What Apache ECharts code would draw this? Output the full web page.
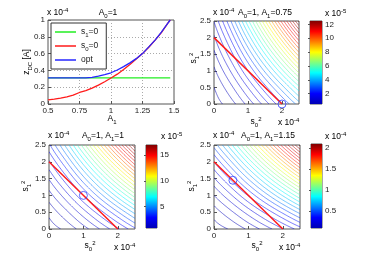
<!DOCTYPE html>
<html><head><meta charset="utf-8">
<script src="https://cdn.jsdelivr.net/npm/echarts@6/dist/echarts.min.js"></script>
<style>html,body{margin:0;padding:0;background:#fff}#c{width:374px;height:262px}</style>
</head><body><div id="c"></div>
<script>
// ---------- Panel 1 data (z_DC in units of 1e-4 A) ----------
const a1Values = [0.5,0.55,0.6,0.65,0.7,0.75,0.8,0.85,0.9,0.95,1.0,1.05,1.1,1.15,1.2,1.25,1.3,1.35,1.4,1.45,1.47];
const zS1Zero  = [0.31,0.31,0.31,0.31,0.31,0.31,0.31,0.31,0.31,0.31,0.31,0.31,0.31,0.31,0.31,0.31,0.31,0.31,0.31,0.31,0.31];
const zS0Zero  = [0.048,0.058,0.07,0.085,0.105,0.137,0.16,0.19,0.225,0.265,0.31,0.355,0.41,0.47,0.535,0.6,0.675,0.76,0.85,0.96,1.0];
const zOpt     = [0.31,0.31,0.31,0.31,0.31,0.31,0.312,0.318,0.332,0.35,0.372,0.405,0.445,0.49,0.54,0.6,0.68,0.76,0.855,0.96,1.0];

// ---------- Contour panels (s0^2, s1^2 in 1e-4; z in 1e-5) ----------
const s2Axis = [0, 0.5, 1, 1.5, 2, 2.5];
// rows: s1^2 = 0..2.5, cols: s0^2 = 0..2.5
const zA075 = [
 [0, 0.457, 1.19, 2.082, 3.097, 4.214],
 [0.207, 0.945, 1.902, 3.008, 4.234, 5.562],
 [0.538, 1.520, 2.723, 4.078, 5.555, 7.137],
 [0.941, 2.157, 3.614, 5.231, 6.977, 8.835],
 [1.400, 2.845, 4.562, 6.450, 8.479, 10.624],
 [1.905, 3.578, 5.559, 7.728, 10.045, 12.491]];
const zA100 = [
 [0, 0.457, 1.19, 2.082, 3.097, 4.214],
 [0.457, 1.317, 2.374, 3.571, 4.884, 6.296],
 [1.19, 2.374, 3.767, 5.304, 6.959, 8.717],
 [2.082, 3.571, 5.304, 7.193, 9.209, 11.335],
 [3.097, 4.884, 6.959, 9.209, 11.598, 14.107],
 [4.214, 6.296, 8.717, 11.335, 14.107, 17.009]];
const zA115 = [
 [0, 0.457, 1.19, 2.082, 3.097, 4.214],
 [0.673, 1.618, 2.755, 4.028, 5.414, 6.897],
 [1.750, 3.081, 4.627, 6.316, 8.124, 10.033],
 [3.063, 4.758, 6.714, 8.832, 11.081, 13.443],
 [4.555, 6.604, 8.975, 11.532, 14.236, 17.064],
 [6.198, 8.600, 11.387, 14.392, 17.562, 20.876]];
const levelStart = [0.21, 0.29, 0.35];
const levelStep  = [0.42, 0.58, 0.70];
const constraintLine = [[0, 2], [2, 0]];
const optPoints = [[2, 0], [1, 1], [0.55, 1.45]];
const cbarRange = [[0.5, 12.5], [0.8, 17], [0.9, 20.9]];      // 1e-5
const cbarScale = [1, 1, 0.1];                                 // label units
const cbarTicks = [[2,4,6,8,10,12], [5,10,15], [0.5,1,1.5,2]];
const jet = ['#0000b4','#0000ff','#00ffff','#ffff00','#ff0000','#800000'];
const jetStops = [0, 0.125, 0.375, 0.625, 0.875, 1];

// ---------- contour extraction ----------
function cr(p0,p1,p2,p3,t){return 0.5*((2*p1)+(-p0+p2)*t+(2*p0-5*p1+4*p2-p3)*t*t+(-p0+3*p1-3*p2+p3)*t*t*t);}
function makeSampler(field, axis){
  const n = axis.length, h = axis[1]-axis[0];
  const G = (j,i) => {
    if (i<0) return 2*G(j,0)-G(j,1);
    if (i>n-1) return 2*G(j,n-1)-G(j,n-2);
    if (j<0) return 2*G(0,i)-G(1,i);
    if (j>n-1) return 2*G(n-1,i)-G(n-2,i);
    return field[j][i];
  };
  return (x,y) => {
    const gx=(x-axis[0])/h, gy=(y-axis[0])/h;
    const i=Math.min(Math.floor(gx),n-2), j=Math.min(Math.floor(gy),n-2);
    const tx=gx-i, ty=gy-j, r=[];
    for (let k=-1;k<=2;k++) r.push(cr(G(j+k,i-1),G(j+k,i),G(j+k,i+1),G(j+k,i+2),tx));
    return cr(r[0],r[1],r[2],r[3],ty);
  };
}
function edge(pts,x1,y1,v1,x2,y2,v2,L){
  if ((v1<L)!==(v2<L)){const t=(L-v1)/(v2-v1);pts.push([x1+(x2-x1)*t,y1+(y2-y1)*t]);}
}
function chain(segs){
  const key=p=>p[0].toFixed(6)+','+p[1].toFixed(6);
  const adj=new Map();
  segs.forEach((s,idx)=>{for(const e of [0,1]){const k=key(s[e]);if(!adj.has(k))adj.set(k,[]);adj.get(k).push(idx);}});
  const used=new Array(segs.length).fill(false), lines=[];
  for(let s0=0;s0<segs.length;s0++){
    if(used[s0])continue; used[s0]=true;
    const line=[segs[s0][0],segs[s0][1]];
    for(const dir of [1,-1]){
      while(true){
        const end=dir===1?line[line.length-1]:line[0];
        const ke=key(end);
        const cand=(adj.get(ke)||[]).find(k=>!used[k]);
        if(cand===undefined)break;
        used[cand]=true;
        const s=segs[cand];
        const next=key(s[0])===ke?s[1]:s[0];
        if(dir===1)line.push(next);else line.unshift(next);
      }
    }
    lines.push(line);
  }
  return lines;
}
function buildContours(field,start,step,nFine){
  const sample=makeSampler(field,s2Axis);
  const lo=s2Axis[0],hi=s2Axis[s2Axis.length-1],xs=[],F=[];
  for(let i=0;i<=nFine;i++)xs.push(lo+(hi-lo)*i/nFine);
  let zmax=-Infinity;
  for(let j=0;j<=nFine;j++){const row=[];for(let i=0;i<=nFine;i++){const v=sample(xs[i],xs[j]);row.push(v);if(v>zmax)zmax=v;}F.push(row);}
  const out=[];
  for(let k=0;;k++){
    const L=start+k*step; if(L>=zmax)break;
    const segs=[];
    for(let j=0;j<nFine;j++)for(let i=0;i<nFine;i++){
      const pts=[];
      edge(pts,xs[i],xs[j],F[j][i],xs[i+1],xs[j],F[j][i+1],L);
      edge(pts,xs[i+1],xs[j],F[j][i+1],xs[i+1],xs[j+1],F[j+1][i+1],L);
      edge(pts,xs[i],xs[j+1],F[j+1][i],xs[i+1],xs[j+1],F[j+1][i+1],L);
      edge(pts,xs[i],xs[j],F[j][i],xs[i],xs[j+1],F[j+1][i],L);
      if(pts.length===2)segs.push([pts[0],pts[1]]);
      else if(pts.length===4){segs.push([pts[0],pts[1]]);segs.push([pts[2],pts[3]]);}
    }
    out.push({level:L,lines:chain(segs)});
  }
  return out;
}
const fields=[zA075,zA100,zA115];
const contourStore=fields.map((f,i)=>buildContours(f,levelStart[i],levelStep[i],70));

// ---------- layout ----------
const FONT='Liberation Sans';
const panelRects=[{left:48,top:20,width:126,height:84},{left:214,top:21,width:85,height:83},{left:49,top:145,width:86,height:84},{left:214,top:145,width:86,height:84}];
const cbarRects=[{left:310,top:21,width:12,height:83},{left:146,top:145,width:11,height:83},{left:311,top:144,width:11,height:84}];
const rich={
  b:{fontSize:8.5,fontFamily:FONT,color:'#222',lineHeight:12,verticalAlign:'middle'},
  s:{fontSize:6,fontFamily:FONT,color:'#222',lineHeight:6,verticalAlign:'bottom'},
  p:{fontSize:6,fontFamily:FONT,color:'#222',lineHeight:6,verticalAlign:'top'}
};
const lbl={fontSize:8,fontFamily:FONT,color:'#222'};

const grids=[],xAxes=[],yAxes=[],series=[],visualMaps=[];
panelRects.forEach(r=>grids.push(Object.assign({show:true,borderColor:'#555',borderWidth:1,backgroundColor:'#fff'},r)));
cbarRects.forEach(r=>grids.push(Object.assign({show:true,borderColor:'#555',borderWidth:1},r)));

// panel 1 axes
xAxes.push({gridIndex:0,type:'value',min:0.5,max:1.5,interval:0.25,axisLine:{show:false},
  axisTick:{inside:true,length:3,lineStyle:{color:'#555'}},axisLabel:Object.assign({margin:3,formatter:v=>String(v)},lbl),
  splitLine:{show:true,lineStyle:{type:[1,2],color:'#aaa',width:1}}});
yAxes.push({gridIndex:0,type:'value',min:0,max:1,interval:0.2,axisLine:{show:false},
  axisTick:{inside:true,length:3,lineStyle:{color:'#555'}},axisLabel:Object.assign({margin:3},lbl),
  splitLine:{show:true,lineStyle:{type:[1,2],color:'#aaa',width:1}}});
// contour panels axes
for(let g=1;g<=3;g++){
  xAxes.push({gridIndex:g,type:'value',min:0,max:2.5,interval:1,axisLine:{show:false},
    axisTick:{inside:true,length:3,lineStyle:{color:'#555'}},axisLabel:Object.assign({margin:3,showMaxLabel:false},lbl),splitLine:{show:false}});
  yAxes.push({gridIndex:g,type:'value',min:0,max:2.5,interval:0.5,axisLine:{show:false},
    axisTick:{inside:true,length:3,lineStyle:{color:'#555'}},axisLabel:Object.assign({margin:3},lbl),splitLine:{show:false}});
}
// colorbar axes
for(let c=0;c<3;c++){
  const sc=cbarScale[c];
  xAxes.push({gridIndex:4+c,type:'value',min:0,max:1,show:false});
  yAxes.push({gridIndex:4+c,type:'value',position:'right',min:cbarRange[c][0]*sc,max:cbarRange[c][1]*sc,
    axisLine:{show:false},splitLine:{show:false},
    axisTick:{inside:true,length:2,customValues:cbarTicks[c],lineStyle:{color:'#555'}},
    axisLabel:Object.assign({margin:3,customValues:cbarTicks[c]},lbl)});
}

// panel 1 series
series.push({name:'s1=0',type:'line',xAxisIndex:0,yAxisIndex:0,showSymbol:false,data:a1Values.map((a,i)=>[a,zS1Zero[i]]),lineStyle:{color:'#22ee22',width:1.3},itemStyle:{color:'#22ee22'},z:3});
series.push({name:'s0=0',type:'line',xAxisIndex:0,yAxisIndex:0,showSymbol:false,data:a1Values.map((a,i)=>[a,zS0Zero[i]]),lineStyle:{color:'#ff1a1a',width:1.3},itemStyle:{color:'#ff1a1a'},z:3});
series.push({name:'opt',type:'line',xAxisIndex:0,yAxisIndex:0,showSymbol:false,data:a1Values.map((a,i)=>[a,zOpt[i]]),lineStyle:{color:'#2626ff',width:1.3},itemStyle:{color:'#2626ff'},z:4});

// contour panels
for(let c=0;c<3;c++){
  const g=c+1, store=contourStore[c], rng=cbarRange[c];
  const sIdx=series.length;
  series.push({type:'custom',xAxisIndex:g,yAxisIndex:g,clip:true,silent:true,
    encode:{x:0,y:1},
    data:store.map(o=>[1.25,1.25,Math.min(Math.max(o.level,rng[0]),rng[1])]),
    renderItem:(params,api)=>{
      const lines=store[params.dataIndex].lines, color=api.visual('color');
      return {type:'group',children:lines.map(l=>({type:'polyline',shape:{points:l.map(p=>api.coord(p))},style:{stroke:color,fill:'none',lineWidth:0.75,opacity:0.72}}))};
    },z:2});
  visualMaps.push({type:'continuous',show:false,seriesIndex:sIdx,dimension:2,min:rng[0],max:rng[1],inRange:{color:jet}});
  series.push({type:'line',xAxisIndex:g,yAxisIndex:g,showSymbol:false,data:constraintLine,lineStyle:{color:'#ff1a1a',width:1.5},z:5,silent:true});
  series.push({type:'scatter',xAxisIndex:g,yAxisIndex:g,data:[optPoints[c]],symbol:'circle',symbolSize:8,
    itemStyle:{color:'rgba(0,0,0,0)',borderColor:'#3344ff',borderWidth:1},z:6,silent:true});
  // colorbar
  const sc=cbarScale[c];
  series.push({type:'custom',xAxisIndex:4+c,yAxisIndex:4+c,encode:{x:[0,2],y:[1,3]},silent:true,
    data:[[0,rng[0]*sc,1,rng[1]*sc]],
    renderItem:(params,api)=>{
      const p0=api.coord([api.value(0),api.value(3)]),p1=api.coord([api.value(2),api.value(1)]);
      return {type:'rect',shape:{x:p0[0],y:p0[1],width:p1[0]-p0[0],height:p1[1]-p0[1]},
        style:{fill:{type:'linear',x:0,y:1,x2:0,y2:0,colorStops:jet.map((col,i)=>({offset:jetStops[i],color:col}))}}};
    },z:1});
}

// texts
function T(x,y,text,align,rot){
  return {type:'text',x:x,y:y,rotation:rot||0,style:{text:text,rich:rich,align:align||'left',verticalAlign:'middle'},z:10};
}
const exp4='{b|x 10}{p|-4}', exp5='{b|x 10}{p|-5}';
const s0sq='{b|s}{s|0}{p|2}', s1sq='{b|s}{s|1}{p|2}';
const texts=[
  T(47,13,exp4), T(108,13,'{b|A}{s|0}{b|=1}','center'),
  T(112,119,'{b|A}{s|1}','center'), T(27,62,'{b|z}{s|DC}{b| [A]}','center',Math.PI/2),
  T(213,13,exp4), T(265,13,'{b|A}{s|0}{b|=1, A}{s|1}{b|=0.75}','center'),
  T(256,122,s0sq,'center'), T(278,123,exp4), T(194,58,s1sq,'center',Math.PI/2), T(325,14,exp5),
  T(48,136,exp4), T(103,136,'{b|A}{s|0}{b|=1, A}{s|1}{b|=1}','center'),
  T(90,246,s0sq,'center'), T(114,248,exp4), T(26,186,s1sq,'center',Math.PI/2), T(161,137,exp5),
  T(213,136,exp4), T(268,136,'{b|A}{s|0}{b|=1, A}{s|1}{b|=1.15}','center'),
  T(257,246,s0sq,'center'), T(279,248,exp4), T(192,186,s1sq,'center',Math.PI/2), T(325,137,exp4)
];
const legendLabels={'s1=0':'{b|s}{s|1}{b|=0}','s0=0':'{b|s}{s|0}{b|=0}','opt':'{b|opt}'};

const chart=echarts.init(document.getElementById('c'),null,{renderer:'canvas'});
chart.setOption({
  animation:false,
  backgroundColor:'#fff',
  grid:grids,xAxis:xAxes,yAxis:yAxes,series:series,visualMap:visualMaps,
  legend:{data:['s1=0','s0=0','opt'],left:51,top:23,orient:'vertical',icon:'rect',itemWidth:21,itemHeight:1.5,itemGap:2,
    padding:[3,8,3,4],borderColor:'#333',borderWidth:1,backgroundColor:'#fff',
    formatter:n=>legendLabels[n],textStyle:{rich:rich,fontSize:8.5,lineHeight:12}},
  graphic:texts
});
</script></body></html>
